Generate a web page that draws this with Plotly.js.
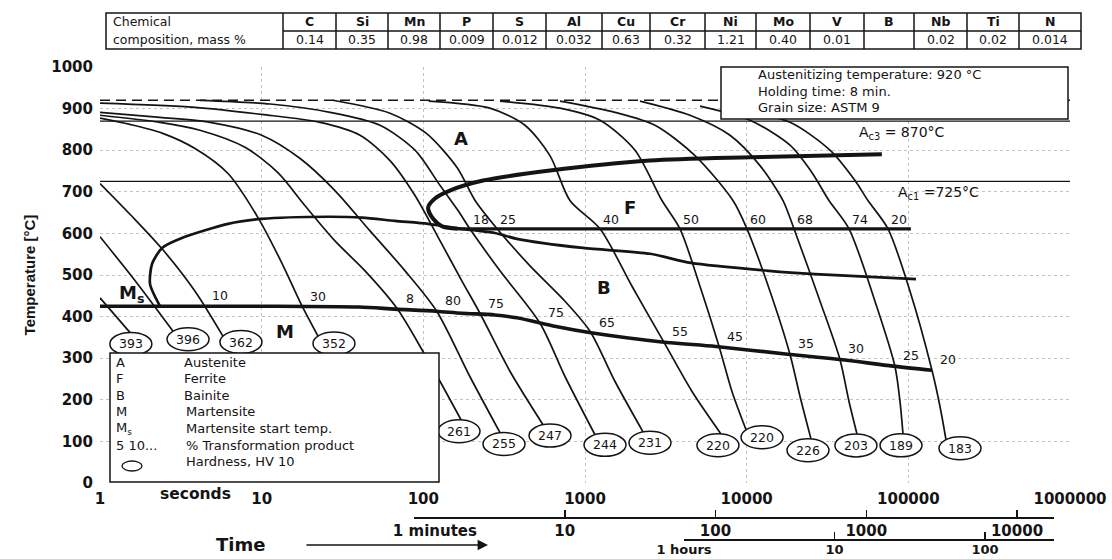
<!DOCTYPE html>
<html>
<head>
<meta charset="utf-8">
<script src="https://cdn.plot.ly/plotly-3.0.1.min.js"></script>
<style>
  html, body { margin: 0; padding: 0; background: #fff; }
  #chart { width: 1112px; height: 559px; }
</style>
</head>
<body>
<div id="chart"></div>
<script>
// ---------- Steel grade: chemical composition (mass %) ----------
const elements = ['C', 'Si', 'Mn', 'P', 'S', 'Al', 'Cu', 'Cr', 'Ni', 'Mo', 'V', 'B', 'Nb', 'Ti', 'N'];
const massPct  = ['0.14', '0.35', '0.98', '0.009', '0.012', '0.032', '0.63', '0.32', '1.21', '0.40', '0.01', '', '0.02', '0.02', '0.014'];

// ---------- Heat treatment conditions ----------
const austenitizingTemp = 920;   // °C
const holdingTime = '8 min.';
const grainSize = 'ASTM 9';
const ac3 = 870;                 // °C
const ac1 = 725;                 // °C

// ---------- Cooling curves (time in s, temperature in °C) ----------
const curveTime = [
  [1, 1.53],
  [1, 1.69, 2.83],
  [1, 1.56, 2.42, 3.87, 5.76],
  [1, 1.53, 2.42, 3.87, 6.19, 9.49, 13.4, 17.8, 22.3],
  [1, 2.35, 4.15, 7.89, 12.6, 18.5, 28.4, 43.6, 68.7, 102, 127, 171],
  [1, 2.35, 4.79, 10, 17.3, 28.4, 46.8, 77.1, 121, 194, 298],
  [1, 3.87, 10, 23, 40.6, 62.2, 88.8, 127, 173, 224, 344, 550],
  [4.15, 11.3, 26.5, 53.9, 88.8, 127, 164, 194, 298, 527, 752, 1153],
  [27.6, 62.2, 104, 162, 209, 286, 457, 752, 1074, 1534, 2284],
  [108, 258, 425, 607, 807, 1238, 1953, 3082, 4592, 6934],
  [298, 700, 1238, 2038, 2993, 3870, 5143, 6744, 8110, 9910],
  [700, 1534, 2710, 4789, 8225, 10040, 13940, 18540, 21380, 25000],
  [2188, 4460, 7885, 12090, 16780, 19630, 28430, 37760, 42950, 48110],
  [5143, 10490, 18540, 25370, 32300, 42950, 62180, 82670, 88770, 92690],
  [9100, 18540, 32760, 46770, 56260, 74860, 102400, 140000, 157000, 171000]
];
const curveTemp = [
  [445, 362],
  [592, 481, 365],
  [720, 643, 563, 461, 353],
  [877, 862, 841, 804, 744, 638, 527, 425, 353],
  [884, 867, 848, 807, 746, 667, 582, 510, 420, 309, 244, 152],
  [891, 879, 867, 836, 780, 703, 606, 510, 413, 256, 121],
  [913, 903, 886, 867, 836, 775, 691, 582, 486, 408, 268, 140],
  [920, 911, 891, 860, 800, 715, 655, 611, 510, 384, 256, 116],
  [920, 889, 841, 758, 679, 611, 522, 437, 365, 244, 123],
  [918, 901, 860, 787, 679, 611, 473, 338, 220, 118],
  [918, 901, 872, 800, 679, 611, 473, 329, 220, 128],
  [918, 891, 860, 787, 679, 611, 461, 309, 208, 106],
  [918, 884, 836, 763, 679, 611, 437, 297, 196, 118],
  [906, 872, 812, 746, 679, 611, 437, 280, 196, 118],
  [896, 867, 800, 727, 679, 611, 461, 271, 184, 104]
];
// Hardness HV 10 at the end of each cooling curve
const hardnessHV = [393, 396, 362, 352, 261, 255, 247, 244, 231, 220, 220, 226, 203, 189, 183];
// % ferrite formed (at the ferrite finish line) and % bainite (at the bainite finish line)
const ferritePct = [null, null, null, null, null, null, null, 18, 25, 40, 50, 60, 68, 74, 20];
const bainitePct = [null, null, 10, 30, 8, 80, 75, 75, 65, 55, 45, 35, 30, 25, 20];

// ---------- Transformation lines ----------
const ferriteStartTime = [68600, 10490, 2524, 607, 234, 146, 118, 107, 115, 132, 162];
const ferriteStartTemp = [790, 783, 775, 751, 727, 703, 684, 662, 635, 616, 611];
const ferriteFinishTime = [162, 103700];
const ferriteFinishTemp = [611, 611];
const bainiteTime = [2.35, 2.04, 2.10, 2.42, 3.21, 6.19, 10, 25.7, 41.8, 66.8, 107, 173, 277, 379, 972, 2524, 4520, 13740, 26460, 111500];
const bainiteTemp = [425, 478, 527, 565, 589, 623, 635, 640, 638, 630, 623, 611, 601, 587, 565, 551, 529, 510, 502, 490];
const msTime = [1, 10, 40, 66.8, 120, 173, 277, 379, 662, 1089, 2993, 6457, 18540, 37760, 80350, 140000];
const msTemp = [425, 425, 423, 418, 413, 408, 404, 397, 376, 361, 339, 328, 309, 297, 281, 271];

// ---------- Axes ----------
const timeTicks = [1, 10, 100, 1000, 10000, 100000, 1000000];
const timeTickText = ['1', '10', '100', '1000', '10000', '100000', '1000000'];
const tempTicks = [0, 100, 200, 300, 400, 500, 600, 700, 800, 900, 1000];
const minuteTicks = [1, 10, 100, 1000, 10000];
const minuteTickText = ['\u00a0\u00a0\u00a0\u00a0\u00a0\u00a0\u00a0\u00a01 minutes', '10', '100', '1000', '10000'];
const hourTicks = [1, 10, 100];
const hourTickText = ['1 hours', '10', '100'];

// ---------- Page geometry & styles ----------
const W = 1112, H = 559, ML = 100, MR = 42, MT = 67, MB = 0;
const plotW = W - ML - MR, plotH = H - MT - MB;
const timeRange = [0, 6];                                  // log10 seconds
const decadePx = plotW / (timeRange[1] - timeRange[0]);    // pixels per decade on the time axis
const px = x => (x - ML) / plotW;          // page x (px) -> paper fraction
const py = y => (H - MB - y) / plotH;      // page y (px) -> paper fraction
const FONT = 'DejaVu Sans';
const INK = '#141414';
const GRID = '#c4c4c4';

const traces = [];
const shapes = [];
const annotations = [];

const line = (x, y, width, extra = {}) => Object.assign({
  type: 'scatter', mode: 'lines', x, y, xaxis: 'x', yaxis: 'y',
  line: Object.assign({ color: INK, width }, extra.line || {}),
  hoverinfo: 'skip', showlegend: false
}, extra.trace || {});

// Reference temperatures
traces.push(line([1, 1e6], [austenitizingTemp, austenitizingTemp], 1.4, { line: { dash: '10px,6px' } }));
traces.push(line([1, 1e6], [ac3, ac3], 1.3));
traces.push(line([1, 1e6], [ac1, ac1], 1.3));

// Cooling curves
curveTime.forEach((t, i) => {
  traces.push(line(t, curveTemp[i], 1.7, { line: { shape: 'spline', smoothing: 0.8 } }));
});

// Transformation boundaries
traces.push(line(ferriteStartTime, ferriteStartTemp, 4, { line: { shape: 'spline', smoothing: 0.8 } }));
traces.push(line(ferriteFinishTime, ferriteFinishTemp, 3.2));
traces.push(line(bainiteTime, bainiteTemp, 2.7, { line: { shape: 'spline', smoothing: 0.7 } }));
traces.push(line(msTime, msTemp, 3.6, { line: { shape: 'spline', smoothing: 0.8 } }));

// Anchor traces for the minutes / hours scales
traces.push({ type: 'scatter', mode: 'lines', x: [1, 10], y: [null, null], xaxis: 'x2', yaxis: 'y2', hoverinfo: 'skip', showlegend: false });
traces.push({ type: 'scatter', mode: 'lines', x: [1, 10], y: [null, null], xaxis: 'x3', yaxis: 'y3', hoverinfo: 'skip', showlegend: false });

// ---------- Crossing helpers for the percentage labels ----------
function lineAt(ts, Ts, t) {
  const u = Math.log10(t);
  if (u <= Math.log10(ts[0])) return Ts[0];
  for (let k = 1; k < ts.length; k++) {
    const u1 = Math.log10(ts[k - 1]), u2 = Math.log10(ts[k]);
    if (u <= u2) return Ts[k - 1] + (Ts[k] - Ts[k - 1]) * (u - u1) / (u2 - u1);
  }
  return Ts[Ts.length - 1];
}
function crossing(ct, cT, lt, lT) {
  for (let k = 1; k < ct.length; k++) {
    const d1 = cT[k - 1] - lineAt(lt, lT, ct[k - 1]);
    const d2 = cT[k] - lineAt(lt, lT, ct[k]);
    if (d1 >= 0 && d2 < 0) {
      const f = d1 / (d1 - d2);
      const u1 = Math.log10(ct[k - 1]), u2 = Math.log10(ct[k]);
      return { u: u1 + f * (u2 - u1), T: cT[k - 1] + f * (cT[k] - cT[k - 1]) };
    }
  }
  return null;
}

const pctFont = { family: FONT, size: 12.5, color: INK };
curveTime.forEach((t, i) => {
  if (ferritePct[i] != null) {
    const c = crossing(t, curveTemp[i], ferriteFinishTime, ferriteFinishTemp);
    if (c) annotations.push({ x: c.u, y: c.T, xref: 'x', yref: 'y', text: String(ferritePct[i]), showarrow: false,
      xanchor: 'left', yanchor: 'bottom', xshift: 1, yshift: 0, font: pctFont });
  }
  if (bainitePct[i] != null) {
    const c = crossing(t, curveTemp[i], msTime, msTemp);
    if (c) annotations.push({ x: c.u, y: c.T, xref: 'x', yref: 'y', text: String(bainitePct[i]), showarrow: false,
      xanchor: 'left', yanchor: 'bottom', xshift: 6, yshift: 1, font: pctFont });
  }
});

// ---------- Hardness ellipses hanging from the end of each cooling curve ----------
const hvShift = [1, 15, 18, 16, -2, 4, 7, 10, 7, -3, 16, -3, -1, -2, 14];   // px, ellipse centre right of curve end
const EW = 21, EH = 11.5;                                                   // ellipse half-axes, px
const logShift = (t, dpx) => t * Math.pow(10, dpx / decadePx);
hardnessHV.forEach((hv, i) => {
  const t = curveTime[i][curveTime[i].length - 1];
  const T = curveTemp[i][curveTemp[i].length - 1];
  const dx = hvShift[i];
  const dy = EH * Math.sqrt(Math.max(0, 1 - (dx / EW) ** 2));
  shapes.push({ type: 'circle', xref: 'x', yref: 'y', ysizemode: 'pixel', yanchor: T,
    x0: logShift(t, dx - EW), x1: logShift(t, dx + EW), y0: -dy - EH, y1: -dy + EH,
    fillcolor: '#fff', line: { color: INK, width: 1.5 }, layer: 'above' });
  annotations.push({ x: Math.log10(t), y: T, xref: 'x', yref: 'y', xshift: dx, yshift: -dy,
    text: String(hv), showarrow: false, xanchor: 'center', yanchor: 'middle',
    font: { family: FONT, size: 12.5, color: INK } });
});

// ---------- Phase field labels ----------
const bigFont = { family: FONT, size: 18, color: INK, weight: 'bold' };
const dataLabel = (t, T, text, font, opt = {}) => Object.assign({ x: Math.log10(t), y: T, xref: 'x', yref: 'y', text,
  showarrow: false, xanchor: 'center', yanchor: 'middle', font }, opt);
annotations.push(dataLabel(171, 829, 'A', bigFont));
annotations.push(dataLabel(1898, 663, 'F', bigFont));
annotations.push(dataLabel(1310, 469, 'B', bigFont));
annotations.push(dataLabel(13.9, 363, 'M', bigFont));
annotations.push(dataLabel(1.56, 454, 'M<sub>s</sub>', bigFont));
annotations.push(dataLabel(48110, 842, `A<sub>c3</sub> = ${ac3}°C`, { family: FONT, size: 14, color: INK }, { xanchor: 'left' }));
annotations.push(dataLabel(84000, 697, `A<sub>c1</sub> =${ac1}°C`, { family: FONT, size: 14, color: INK }, { xanchor: 'left' }));

// ---------- Paper-positioned text and frames ----------
const txt = (x, y, text, opt = {}) => Object.assign({ xref: 'paper', yref: 'paper', x: px(x), y: py(y), text,
  showarrow: false, xanchor: 'left', yanchor: 'middle', font: { family: FONT, size: 13, color: INK } }, opt);
const rect = (x0, y0, x1, y1, opt = {}) => Object.assign({ type: 'rect', xref: 'paper', yref: 'paper',
  x0: px(x0), x1: px(x1), y0: py(y1), y1: py(y0), fillcolor: '#fff', line: { color: INK, width: 1.5 }, layer: 'above' }, opt);
const seg = (x0, y0, x1, y1, w = 1.5) => ({ type: 'line', xref: 'paper', yref: 'paper',
  x0: px(x0), x1: px(x1), y0: py(y0), y1: py(y1), line: { color: INK, width: w }, layer: 'above' });

// Composition table
const colEdges = [283, 336, 388, 440, 493, 546, 602, 650, 705, 756, 810, 864, 914, 967, 1019, 1081];
shapes.push(rect(106, 13, 1081, 49));
shapes.push(seg(283, 31, 1081, 31));
colEdges.slice(0, -1).forEach(x => shapes.push(seg(x, 13, x, 49)));
annotations.push(txt(111, 22, 'Chemical', { font: { family: FONT, size: 12.5, color: INK } }));
annotations.push(txt(111, 40, 'composition, mass %', { font: { family: FONT, size: 12.5, color: INK } }));
elements.forEach((el, i) => {
  const xc = (colEdges[i] + colEdges[i + 1]) / 2;
  annotations.push(txt(xc, 22, el, { xanchor: 'center', font: { family: FONT, size: 12.5, color: INK, weight: 'bold' } }));
  if (massPct[i]) annotations.push(txt(xc, 40, massPct[i], { xanchor: 'center', font: { family: FONT, size: 12.5, color: INK } }));
});

// Heat-treatment box
shapes.push(rect(721, 67, 1068, 119));
annotations.push(txt(756, 75, `Austenitizing temperature: ${austenitizingTemp} °C`));
annotations.push(txt(756, 91, `Holding time: ${holdingTime}`));
annotations.push(txt(756, 107, `Grain size: ${grainSize}`));

// Key box
shapes.push(rect(110, 353, 439, 482));
const keyRows = [
  ['A', 'Austenite'], ['F', 'Ferrite'], ['B', 'Bainite'], ['M', 'Martensite'],
  ['M<sub>s</sub>', 'Martensite start temp.'], ['5 10...', '% Transformation product'], ['', 'Hardness, HV 10']
];
keyRows.forEach(([k, v], r) => {
  const y = 362 + r * 16.6;
  if (k) annotations.push(txt(114, y, k));
  annotations.push(txt(r < 3 ? 182 : 184, y, v));
});
shapes.push({ type: 'circle', xref: 'paper', yref: 'paper', x0: px(122), x1: px(142), y0: py(471), y1: py(461),
  fillcolor: '#fff', line: { color: INK, width: 1.3 }, layer: 'above' });

// Time axis captions
const axFont = { family: FONT, size: 15, color: INK, weight: 'bold' };
annotations.push(txt(195, 494, 'seconds', { xanchor: 'center', font: { family: FONT, size: 15.5, color: INK, weight: 'bold' } }));
annotations.push(txt(240, 544, 'Time', { xanchor: 'center', font: { family: FONT, size: 18, color: INK, weight: 'bold' } }));
annotations.push({ xref: 'paper', yref: 'paper', x: px(488), y: py(545), ax: -183, ay: 0, text: '',
  showarrow: true, arrowhead: 2, arrowsize: 1.6, arrowwidth: 1.3, arrowcolor: INK, standoff: 0 });

const layout = {
  width: W, height: H,
  margin: { l: ML, r: MR, t: MT, b: MB, pad: 0 },
  paper_bgcolor: '#fff', plot_bgcolor: 'rgba(0,0,0,0)',
  showlegend: false,
  xaxis: {
    type: 'log', range: timeRange, domain: [0, 1], anchor: 'y',
    tickvals: timeTicks, ticktext: timeTickText, ticks: '', tickfont: axFont, ticklabelstandoff: 5,
    showgrid: true, gridcolor: GRID, griddash: 'dot', gridwidth: 1,
    showline: false, zeroline: false, fixedrange: true
  },
  yaxis: {
    range: [0, 1000], domain: [py(483), 1], anchor: 'x',
    tickvals: tempTicks, ticks: '', tickfont: axFont, ticklabelstandoff: 6,
    showgrid: true, gridcolor: GRID, griddash: 'dot', gridwidth: 1,
    showline: false, zeroline: false, fixedrange: true,
    title: { text: 'Temperature [°C]', standoff: 12, font: { family: 'Liberation Sans', size: 15, color: INK, weight: 'bold' } }
  },
  xaxis2: {
    type: 'log', domain: [px(414), px(1054)], range: [0, (1054 - 414) / 150.75], anchor: 'y2',
    tickvals: minuteTicks, ticktext: minuteTickText, ticks: 'inside', ticklen: 7, tickwidth: 1.5, tickcolor: INK,
    tickfont: axFont, ticklabelstandoff: -1, showline: true, linecolor: INK, linewidth: 1.5,
    showgrid: false, zeroline: false, fixedrange: true
  },
  yaxis2: { domain: [py(517), py(517) + 0.02], visible: false, range: [0, 1], fixedrange: true },
  xaxis3: {
    type: 'log', domain: [px(684), px(1054)], range: [0, (1054 - 684) / 150.5], anchor: 'y3',
    tickvals: hourTicks, ticktext: hourTickText, ticks: 'inside', ticklen: 7, tickwidth: 1.5, tickcolor: INK,
    tickfont: { family: FONT, size: 13, color: INK, weight: 'bold' }, ticklabelstandoff: -2,
    showline: true, linecolor: INK, linewidth: 1.5,
    showgrid: false, zeroline: false, fixedrange: true
  },
  yaxis3: { domain: [py(539), py(539) + 0.02], visible: false, range: [0, 1], fixedrange: true },
  shapes, annotations
};

Plotly.newPlot('chart', traces, layout, { displayModeBar: false, staticPlot: true });
</script>
</body>
</html>
